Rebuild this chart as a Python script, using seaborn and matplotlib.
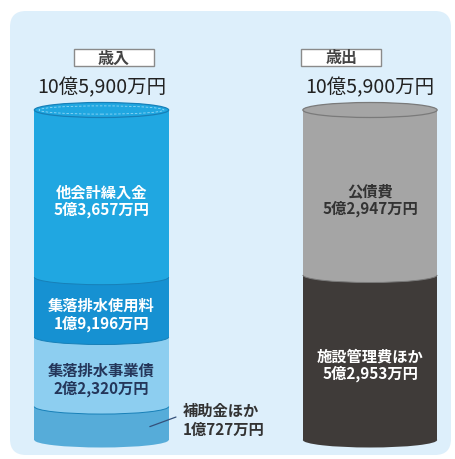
import numpy as np
import pandas as pd
import matplotlib
matplotlib.use("Agg")
import matplotlib.pyplot as plt
import seaborn as sns
from matplotlib.patches import Ellipse, Arc, FancyBboxPatch, Rectangle

# ---------------- data ----------------
sides = ["歳入", "歳出"]
total_labels = ["10億5,900万円", "10億5,900万円"]

rev_items = ["補助金ほか", "集落排水事業債", "集落排水使用料", "他会計繰入金"]
rev_values = [10727, 22320, 19196, 53657]
rev_amounts = ["1億727万円", "2億2,320万円", "1億9,196万円", "5億3,657万円"]

exp_items = ["施設管理費ほか", "公債費"]
exp_values = [52953, 52947]
exp_amounts = ["5億2,953万円", "5億2,947万円"]

# ---------------- style ----------------
rev_colors = ["#56acd9", "#8dcef0", "#1691d2", "#20a7e1"]
rev_text_colors = [None, "#24365a", "white", "white"]
exp_colors = ["#3f3b39", "#a5a5a5"]
exp_text_colors = ["white", "#333333"]
arc_colors = {"歳入": "#1780b8", "歳出": "#7a7a7a"}

sns.set_style("white")
plt.rcParams["font.family"] = ["Noto Sans CJK JP", "DejaVu Sans"]

W, H, DPI = 455, 460, 100
fig = plt.figure(figsize=(W / DPI, H / DPI), dpi=DPI)
fig.patch.set_facecolor("white")

# light blue rounded panel
panel = FancyBboxPatch((10 / DPI, (H - 456) / DPI), 441 / DPI, 444 / DPI,
                       boxstyle="round,pad=0,rounding_size=0.16",
                       transform=fig.dpi_scale_trans, facecolor="#ddeffb",
                       edgecolor="none", zorder=-5)
fig.patches.append(panel)

ax = fig.add_axes([0, (H - 441) / H, 1, 330 / H])
ax.patch.set_alpha(0)
ax.set_zorder(1)

bar_w = 0.5
px_per_val = 330 / sum(rev_values)
ell_h = 15 / px_per_val  # ellipse height in data units

series = [
    (sides[0], rev_items, rev_values, rev_amounts, rev_colors, rev_text_colors),
    (sides[1], exp_items, exp_values, exp_amounts, exp_colors, exp_text_colors),
]

for side, items, values, amounts, colors, tcolors in series:
    xi = sides.index(side)
    bottoms = np.concatenate([[0], np.cumsum(values)[:-1]])
    for item, v, b, c in zip(items, values, bottoms, colors):
        df = pd.DataFrame({"side": [side], "value": [v]})
        sns.barplot(data=df, x="side", y="value", order=sides, color=c,
                    saturation=1, width=bar_w, bottom=b, linewidth=0,
                    errorbar=None, ax=ax)
        # ellipse at the bottom of each segment (cylinder curve)
        ax.add_patch(Ellipse((xi, b), bar_w, ell_h, facecolor=c,
                             edgecolor="none", zorder=3, clip_on=False))
        if b > 0:
            ax.add_patch(Arc((xi, b), bar_w, ell_h, theta1=180, theta2=360,
                             color=arc_colors[side], lw=0.7, zorder=3.5,
                             clip_on=False))
    total = float(np.sum(values))
    # top face
    top_c = colors[-1]
    ax.add_patch(Ellipse((xi, total), bar_w, ell_h, facecolor=top_c,
                         edgecolor=arc_colors[side], lw=0.9, zorder=4,
                         clip_on=False))
    if side == "歳入":
        ax.add_patch(Ellipse((xi, total), bar_w * 0.93, ell_h * 0.55,
                             facecolor="none", edgecolor="#8fd6f5", lw=0.6,
                             ls=(0, (3, 2)), zorder=4.5, clip_on=False))
    # segment labels
    for item, v, b, amt, tc in zip(items, values, bottoms, amounts, tcolors):
        if tc is None:
            continue
        ax.annotate(f"{item}\n{amt}", xy=(xi, b + v / 2), xytext=(0, -5),
                    textcoords="offset points", ha="center", va="center",
                    fontsize=11, fontweight="bold", color=tc,
                    linespacing=1.1, zorder=6)
    # total amount text above
    ax.annotate(total_labels[xi], xy=(xi, total), xytext=(0, 16.5),
                textcoords="offset points", ha="center", va="center",
                fontsize=14, color="#222222", zorder=6, annotation_clip=False)
    # header box
    cx = ax.transData.transform((xi, 0))[0]
    box = Rectangle(((cx - 40) / DPI, (H - 67) / DPI), 80 / DPI, 17 / DPI,
                    transform=fig.dpi_scale_trans, facecolor="white",
                    edgecolor="#8a8a8a", lw=1.0, zorder=5)
    fig.patches.append(box)
    fig.text(cx / W, (H - 58.5) / H, side, ha="center", va="center",
             fontsize=11.5, fontweight="bold", color="#444444", zorder=7)

# annotation for the smallest revenue item
ax.annotate(f"{rev_items[0]}\n{rev_amounts[0]}", xy=(0.18, rev_values[0] * 0.4),
            xytext=(24, 5), textcoords="offset points", ha="left", va="center",
            fontsize=11, fontweight="bold", color="#333333", linespacing=1.25,
            annotation_clip=False, zorder=6,
            arrowprops=dict(arrowstyle="-", color="#34507a", lw=0.9,
                            shrinkA=3, shrinkB=0,
                            relpos=(0, 0.65)))

cx0 = 101.5
cx1 = 370
sp = cx1 - cx0
ax.set_xlim(-cx0 / sp, 1 + (W - cx1) / sp)
ax.set_ylim(0, sum(rev_values))
ax.axis("off")

fig.savefig("out.png", dpi=DPI, facecolor="white")
